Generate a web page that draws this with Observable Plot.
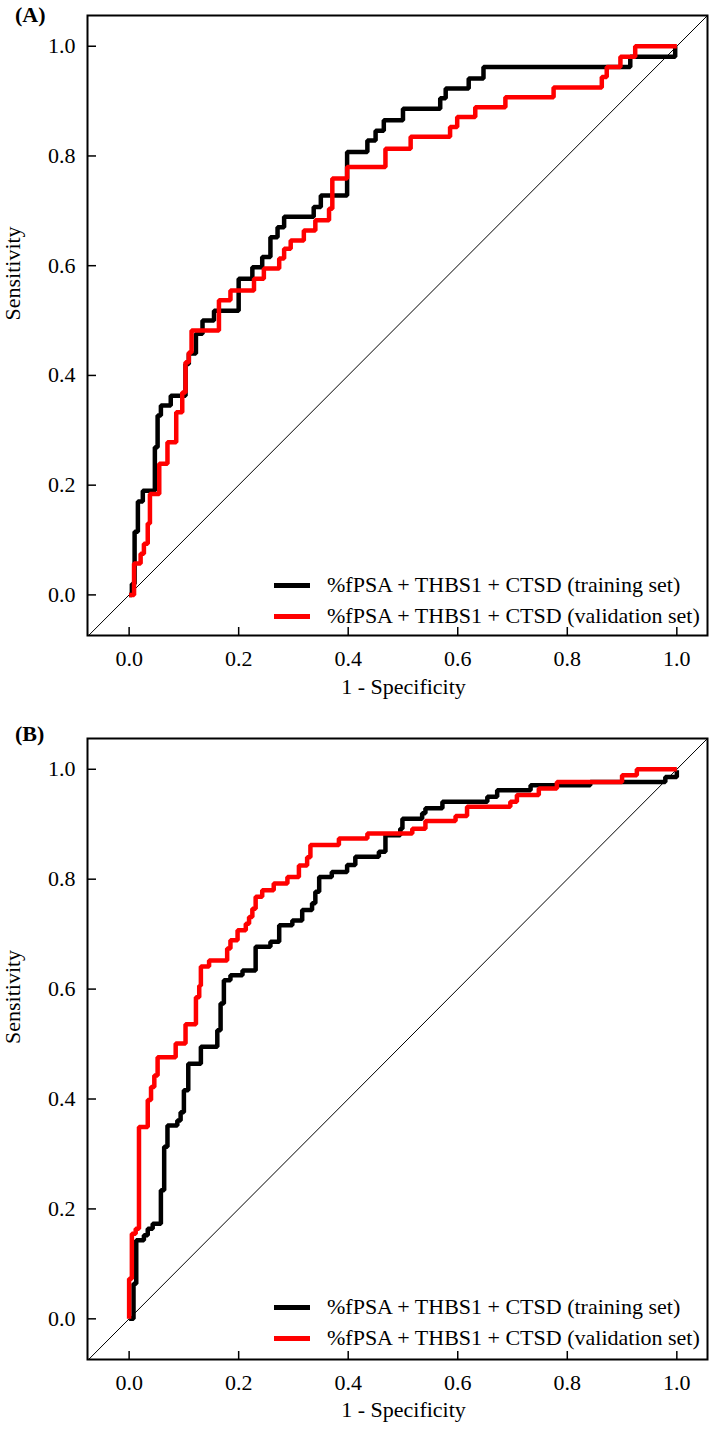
<!DOCTYPE html>
<html><head><meta charset="utf-8">
<script src="https://cdn.jsdelivr.net/npm/d3@7"></script>
<script src="https://cdn.jsdelivr.net/npm/@observablehq/plot@0.6"></script>
<style>
body{margin:0;background:#fff;}
#wrap{position:relative;width:709px;height:1432px;font-family:"Liberation Serif",serif;color:#000;}
.panel{position:absolute;left:0;width:709px;}
.tag{position:absolute;left:15px;font-weight:bold;font-size:22px;line-height:22px;}
.sw{position:absolute;left:274px;width:36px;height:5px;}
.lt{position:absolute;left:327px;font-size:22px;line-height:22px;white-space:nowrap;}
</style></head><body><div id="wrap"></div>
<script>
const xTicks = [0, 0.2, 0.4, 0.6, 0.8, 1.0];
const yTicks = [0, 0.2, 0.4, 0.6, 0.8, 1.0];
const chanceLine = [-0.1, 1.1];
const seriesNames = ["%fPSA + THBS1 + CTSD (training set)", "%fPSA + THBS1 + CTSD (validation set)"];
const seriesColors = ["#000000", "#ff0000"];
const xLabel = "1 - Specificity";
const yLabel = "Sensitivity";

// Panel A: [1 - specificity, sensitivity] vertices of the ROC staircase
const trainingA = [[0,0],[0.005,0],[0.005,0.02],[0.01,0.02],[0.01,0.115],[0.016,0.115],[0.016,0.17],[0.025,0.17],[0.025,0.19],[0.047,0.19],[0.047,0.269],[0.052,0.269],[0.052,0.327],[0.058,0.327],[0.058,0.345],[0.076,0.345],[0.076,0.363],[0.103,0.363],[0.103,0.421],[0.109,0.421],[0.109,0.44],[0.122,0.44],[0.122,0.476],[0.134,0.476],[0.134,0.5],[0.155,0.5],[0.155,0.518],[0.2,0.518],[0.2,0.576],[0.225,0.576],[0.225,0.597],[0.243,0.597],[0.243,0.616],[0.258,0.616],[0.258,0.652],[0.271,0.652],[0.271,0.67],[0.283,0.67],[0.283,0.689],[0.337,0.689],[0.337,0.707],[0.35,0.707],[0.35,0.728],[0.398,0.728],[0.398,0.807],[0.435,0.807],[0.435,0.828],[0.45,0.828],[0.45,0.846],[0.465,0.846],[0.465,0.865],[0.5,0.865],[0.5,0.886],[0.568,0.886],[0.568,0.905],[0.578,0.905],[0.578,0.923],[0.62,0.923],[0.62,0.941],[0.647,0.941],[0.647,0.962],[0.915,0.962],[0.915,0.981],[0.997,0.981],[0.997,1.0]];
const validationA = [[0,0],[0.009,0],[0.009,0.057],[0.021,0.057],[0.021,0.075],[0.027,0.075],[0.027,0.093],[0.034,0.093],[0.034,0.13],[0.038,0.13],[0.038,0.184],[0.055,0.184],[0.055,0.239],[0.07,0.239],[0.07,0.278],[0.086,0.278],[0.086,0.333],[0.097,0.333],[0.097,0.369],[0.103,0.369],[0.103,0.424],[0.109,0.424],[0.109,0.442],[0.114,0.442],[0.114,0.482],[0.164,0.482],[0.164,0.537],[0.185,0.537],[0.185,0.555],[0.228,0.555],[0.228,0.576],[0.246,0.576],[0.246,0.595],[0.274,0.595],[0.274,0.613],[0.283,0.613],[0.283,0.631],[0.295,0.631],[0.295,0.646],[0.319,0.646],[0.319,0.664],[0.34,0.664],[0.34,0.683],[0.365,0.683],[0.365,0.704],[0.371,0.704],[0.371,0.759],[0.398,0.759],[0.398,0.78],[0.468,0.78],[0.468,0.813],[0.514,0.813],[0.514,0.835],[0.586,0.835],[0.586,0.853],[0.599,0.853],[0.599,0.871],[0.632,0.871],[0.632,0.889],[0.687,0.889],[0.687,0.907],[0.775,0.907],[0.775,0.925],[0.863,0.925],[0.863,0.944],[0.872,0.944],[0.872,0.962],[0.897,0.962],[0.897,0.981],[0.924,0.981],[0.924,1.0],[1.0,1.0]];

// Panel B
const trainingB = [[0,0],[0.008,0],[0.008,0.064],[0.013,0.064],[0.013,0.143],[0.027,0.143],[0.027,0.152],[0.034,0.152],[0.034,0.164],[0.043,0.164],[0.043,0.173],[0.058,0.173],[0.058,0.234],[0.064,0.234],[0.064,0.313],[0.07,0.313],[0.07,0.352],[0.088,0.352],[0.088,0.361],[0.094,0.361],[0.094,0.376],[0.1,0.376],[0.1,0.416],[0.108,0.416],[0.108,0.464],[0.131,0.464],[0.131,0.495],[0.161,0.495],[0.161,0.525],[0.167,0.525],[0.167,0.574],[0.173,0.574],[0.173,0.616],[0.185,0.616],[0.185,0.625],[0.207,0.625],[0.207,0.634],[0.231,0.634],[0.231,0.677],[0.258,0.677],[0.258,0.686],[0.274,0.686],[0.274,0.716],[0.298,0.716],[0.298,0.725],[0.316,0.725],[0.316,0.744],[0.334,0.744],[0.334,0.756],[0.34,0.756],[0.34,0.777],[0.347,0.777],[0.347,0.804],[0.37,0.804],[0.37,0.813],[0.398,0.813],[0.398,0.826],[0.413,0.826],[0.413,0.841],[0.456,0.841],[0.456,0.85],[0.468,0.85],[0.468,0.88],[0.495,0.88],[0.495,0.892],[0.499,0.892],[0.499,0.91],[0.535,0.91],[0.535,0.92],[0.541,0.92],[0.541,0.929],[0.572,0.929],[0.572,0.941],[0.654,0.941],[0.654,0.95],[0.672,0.95],[0.672,0.962],[0.733,0.962],[0.733,0.971],[0.842,0.971],[0.842,0.977],[0.979,0.977],[0.979,0.986],[1.0,0.986],[1.0,0.998]];
const validationB = [[0,0],[0,0.073],[0.005,0.073],[0.005,0.155],[0.012,0.155],[0.012,0.164],[0.018,0.164],[0.018,0.349],[0.034,0.349],[0.034,0.398],[0.04,0.398],[0.04,0.422],[0.046,0.422],[0.046,0.443],[0.052,0.443],[0.052,0.476],[0.085,0.476],[0.085,0.501],[0.103,0.501],[0.103,0.536],[0.122,0.536],[0.122,0.585],[0.128,0.585],[0.128,0.606],[0.131,0.606],[0.131,0.641],[0.146,0.641],[0.146,0.652],[0.179,0.652],[0.179,0.674],[0.185,0.674],[0.185,0.689],[0.198,0.689],[0.198,0.707],[0.213,0.707],[0.213,0.719],[0.219,0.719],[0.219,0.731],[0.225,0.731],[0.225,0.746],[0.231,0.746],[0.231,0.768],[0.243,0.768],[0.243,0.78],[0.264,0.78],[0.264,0.792],[0.289,0.792],[0.289,0.804],[0.31,0.804],[0.31,0.825],[0.325,0.825],[0.325,0.84],[0.331,0.84],[0.331,0.862],[0.383,0.862],[0.383,0.874],[0.435,0.874],[0.435,0.883],[0.517,0.883],[0.517,0.892],[0.541,0.892],[0.541,0.906],[0.596,0.906],[0.596,0.915],[0.617,0.915],[0.617,0.932],[0.696,0.932],[0.696,0.941],[0.708,0.941],[0.708,0.953],[0.748,0.953],[0.748,0.965],[0.781,0.965],[0.781,0.977],[0.9,0.977],[0.9,0.989],[0.927,0.989],[0.927,1.0],[1.0,1.0]];

const panels = [
  {tag:"(A)", top:0, height:718, marginTop:15, marginBottom:83, curves:[trainingA, validationA], legendRows:[585,616], tagTop:4, ylabDy:-5, xlabDy:58},
  {tag:"(B)", top:718, height:714, marginTop:20, marginBottom:73, curves:[trainingB, validationB], legendRows:[589,620], tagTop:5, ylabDy:-5, xlabDy:57}
];

const wrap = document.getElementById("wrap");
const FONT = "Liberation Serif";
const FS = 22;

for (const p of panels) {
  const innerH = p.height - p.marginTop - p.marginBottom;
  const innerW = 709 - 87 - 2;
  const fmt = d3.format(".1f");
  const chart = Plot.plot({
    width: 709, height: p.height,
    marginLeft: 87, marginRight: 2, marginTop: p.marginTop, marginBottom: p.marginBottom,
    x: {domain: [-0.076, 1.056]},
    y: {domain: [-0.074, 1.056]},
    style: {fontFamily: FONT, fontSize: FS + "px", color: "black", background: "white", overflow: "visible"},
    marks: [
      Plot.line(chanceLine.map(v => [v, v]), {x: d => d[0], y: d => d[1], stroke: "black", strokeWidth: 1, clip: true}),
      ...p.curves.map((c, i) => Plot.line(c, {x: d => d[0], y: d => d[1], stroke: seriesColors[i], strokeWidth: 4.5, strokeLinejoin: "miter", strokeLinecap: "butt"})),
      Plot.ruleX(xTicks, {x: d => d, insetTop: innerH - 8, stroke: "black", strokeWidth: 1.5}),
      Plot.ruleY(yTicks, {y: d => d, insetRight: innerW - 9, stroke: "black", strokeWidth: 1.5}),
      Plot.axisX(xTicks, {tickSize: 0, tickPadding: 15, tickFormat: fmt, label: null, fontSize: FS}),
      Plot.axisY(yTicks, {tickSize: 0, tickPadding: 12, tickFormat: fmt, label: null, fontSize: FS}),
      Plot.text([xLabel], {text: d => d, frameAnchor: "bottom", dx: 6, dy: p.xlabDy, fontSize: FS}),
      Plot.text([yLabel], {text: d => d, frameAnchor: "left", rotate: -90, dx: -75, dy: p.ylabDy, fontSize: FS}),
      Plot.frame({stroke: "black", strokeWidth: 2})
    ]
  });
  const div = document.createElement("div");
  div.className = "panel";
  div.style.top = p.top + "px";
  div.style.height = p.height + "px";
  div.appendChild(chart);
  const tag = document.createElement("div");
  tag.className = "tag";
  tag.style.top = p.tagTop + "px";
  tag.textContent = p.tag;
  div.appendChild(tag);
  seriesNames.forEach((name, i) => {
    const y = p.legendRows[i];
    const sw = document.createElement("div");
    sw.className = "sw";
    sw.style.top = (y - 2.5) + "px";
    sw.style.background = seriesColors[i];
    div.appendChild(sw);
    const lt = document.createElement("div");
    lt.className = "lt";
    lt.style.top = (y - 10.9) + "px";
    lt.textContent = name;
    div.appendChild(lt);
  });
  wrap.appendChild(div);
}
</script></body></html>
